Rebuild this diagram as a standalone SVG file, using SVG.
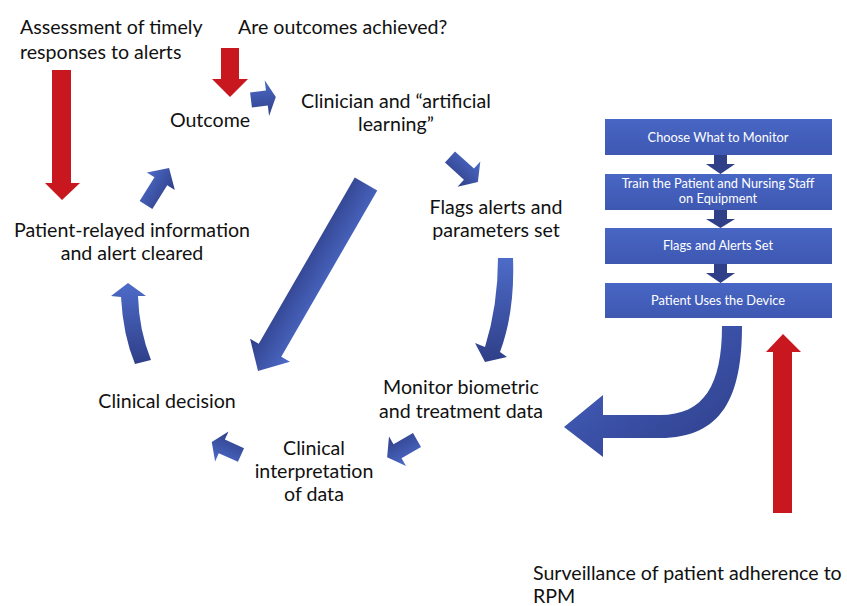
<svg xmlns="http://www.w3.org/2000/svg" width="847" height="606" viewBox="0 0 847 606">
<style>
.t{font-family:Lato,"Liberation Sans",sans-serif;font-size:19.6px;fill:#111;}
.m{text-anchor:middle;}
.b{font-family:Lato,"Liberation Sans",sans-serif;font-size:12.8px;fill:#fff;text-anchor:middle;}
.red{fill:#c8171e;}
.blue{fill:url(#bg);}
.box{fill:url(#boxg);}
.dk{fill:#2f3f88;}
</style>
<defs>
<linearGradient id="bg" x1="0" y1="0" x2="0" y2="1">
<stop offset="0" stop-color="#4d6bc8"/>
<stop offset="1" stop-color="#2f3f88"/>
</linearGradient>
<linearGradient id="boxg" x1="0" y1="0" x2="0" y2="1">
<stop offset="0" stop-color="#4866c4"/>
<stop offset="1" stop-color="#3e58b2"/>
</linearGradient>
<linearGradient id="ug" x1="0" y1="0" x2="1" y2="1">
<stop offset="0" stop-color="#4b68c6"/>
<stop offset="0.5" stop-color="#3a50a6"/>
<stop offset="1" stop-color="#2f3f88"/>
</linearGradient>
</defs>

<g id="texts">
<g id="n-assessment"><text class="t" x="20" y="34">Assessment of timely</text><text class="t" x="20" y="59">responses to alerts</text></g>
<g id="n-achieved"><text class="t" x="238" y="34">Are outcomes achieved?</text></g>
<g id="n-outcome"><text class="t m" x="210" y="127">Outcome</text></g>
<g id="n-clinician"><text class="t m" x="396" y="108">Clinician and “artificial</text><text class="t m" x="396" y="131">learning”</text></g>
<g id="n-flags"><text class="t m" x="496" y="214">Flags alerts and</text><text class="t m" x="496" y="237">parameters set</text></g>
<g id="n-patient"><text class="t m" x="132" y="237">Patient-relayed information</text><text class="t m" x="132" y="260">and alert cleared</text></g>
<g id="n-decision"><text class="t m" x="167" y="408">Clinical decision</text></g>
<g id="n-monitor"><text class="t m" x="461" y="394">Monitor biometric</text><text class="t m" x="461" y="418">and treatment data</text></g>
<g id="n-interp"><text class="t m" x="314" y="455">Clinical</text><text class="t m" x="314" y="478">interpretation</text><text class="t m" x="314" y="501">of data</text></g>
<g id="n-surveillance"><text class="t" x="533" y="580">Surveillance of patient adherence to</text><text class="t" x="533" y="603">RPM</text></g>
</g>

<g id="flow-boxes">
<g id="box1"><rect class="box" x="605" y="119" width="227" height="36"/><text class="b" x="718" y="142">Choose What to Monitor</text></g>
<g id="box2"><rect class="box" x="605" y="174" width="227" height="36"/><text class="b" x="718" y="188">Train the Patient and Nursing Staff</text><text class="b" x="718" y="203">on Equipment</text></g>
<g id="box3"><rect class="box" x="605" y="228" width="227" height="36"/><text class="b" x="718" y="250">Flags and Alerts Set</text></g>
<g id="box4"><rect class="box" x="605" y="283" width="227" height="35"/><text class="b" x="718" y="305">Patient Uses the Device</text></g>
</g>

<g id="connectors">
<polygon class="dk" points="714,155 727,155 727,164 735,164 720.5,174 706,164 714,164"/>
<polygon class="dk" points="714,210 727,210 727,219 735,219 720.5,228 706,219 714,219"/>
<polygon class="dk" points="714,264 727,264 727,273 735,273 720.5,283 706,273 714,273"/>
<polygon class="red" points="52,70 71,70 71,183 80,183 62,200 45,183 52,183"/>
<polygon class="red" points="221,48 239,48 239,79 248,79 230,97 212,79 221,79"/>
<polygon class="red" points="773,513 792,513 792,352 801,352 783,334 766,352 773,352"/>
<polygon class="blue" transform="translate(251,100) rotate(-7)" points="0,-7.5 16,-7.5 16,-18 25,0 16,18 16,7.5 0,7.5"/>
<polygon class="blue" transform="translate(450,157) rotate(42)" points="0,-7.5 25.5,-7.5 25.5,-17 37.5,0 25.5,17 25.5,7.5 0,7.5"/>
<polygon class="blue" transform="translate(366,184) rotate(120)" points="0,-13 192,-13 192,-23 216,0 192,23 192,13 0,13"/>
<polygon class="blue" transform="translate(417,440) rotate(150)" points="0,-8 22.5,-8 22.5,-17 34.5,0 22.5,17 22.5,8 0,8"/>
<polygon class="blue" transform="translate(241,455) rotate(204)" points="0,-7.5 21,-7.5 21,-16.5 32,0 21,16.5 21,7.5 0,7.5"/>
<polygon class="blue" transform="translate(146,205) rotate(-58)" points="0,-7.5 28,-7.5 28,-16.5 43.6,0 28,16.5 28,7.5 0,7.5"/>
<path class="blue" d="M498,258 L513,258 Q515,312 500,352 L507,357 L485,362 L475,343 L485,347 Q498,305 498,258 Z"/>
<path class="blue" d="M135,364 L151,360 Q139,330 138,296 L146,296 L128,283 L111,296 L121,297 Q123,335 135,364 Z"/>
<path fill="url(#ug)" d="M722,326 L742,326 C742,397 722,438 660,438 L603,438 L603,457 L564,427 L603,395 L603,415 L660,415 C704,415 722,385 722,326 Z"/>
</g>
</svg>
